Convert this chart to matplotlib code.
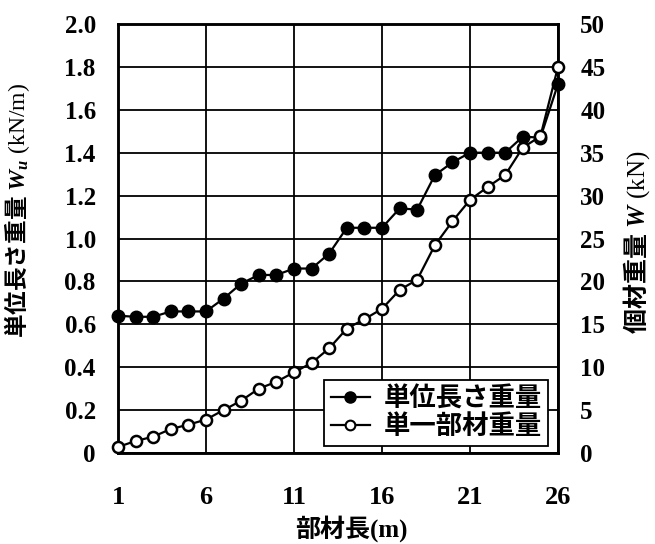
import matplotlib
matplotlib.use('Agg')
import matplotlib.pyplot as plt
from matplotlib.lines import Line2D

# Data
member_no = list(range(1, 27))
unit_weight = [0.64, 0.635, 0.635, 0.66, 0.66, 0.66, 0.72, 0.79, 0.83, 0.83,
               0.86, 0.86, 0.93, 1.05, 1.05, 1.05, 1.14, 1.135, 1.295, 1.355,
               1.40, 1.40, 1.40, 1.475, 1.47, 1.72]          # kN/m
member_weight = [0.7, 1.4, 1.9, 2.8, 3.3, 3.9, 5.0, 6.1, 7.5, 8.3,
                 9.4, 10.5, 12.2, 14.5, 15.6, 16.8, 19.0, 20.2, 24.2, 27.0,
                 29.5, 31.0, 32.4, 35.6, 36.9, 45.0]          # kN
x_ticks = [1, 6, 11, 16, 21, 26]
left_ticks = [0, 0.2, 0.4, 0.6, 0.8, 1.0, 1.2, 1.4, 1.6, 1.8, 2.0]
left_ticklabels = ['0', '0.2', '0.4', '0.6', '0.8', '1.0', '1.2', '1.4', '1.6', '1.8', '2.0']
right_ticks = [0, 5, 10, 15, 20, 25, 30, 35, 40, 45, 50]
legend_labels = ['単位長さ重量', '単一部材重量']

FAM = ['Liberation Serif', 'Noto Sans CJK JP']
plt.rcParams.update({
    'font.family': FAM,
    'font.size': 18,
    'mathtext.fontset': 'custom',
    'mathtext.rm': 'Liberation Serif',
    'mathtext.it': 'Liberation Serif:italic:bold',
    'mathtext.bf': 'Liberation Serif:bold',
    'mathtext.sf': 'Noto Sans CJK JP:bold',
})

fig = plt.figure(figsize=(6.55, 5.44), dpi=100)
ax = fig.add_axes([118 / 655, 1 - 453 / 544, 440 / 655, 429 / 544])
ax2 = ax.twinx()

ax.plot(member_no, unit_weight, color='black', lw=1.6, marker='o', ms=9,
        mfc='black', mec='black', clip_on=False, zorder=3)
ax2.plot(member_no, member_weight, color='black', lw=1.6, marker='o', ms=8,
         mfc='white', mec='black', mew=1.8, clip_on=False, zorder=3)

ax.set_xlim(1, 26)
ax.set_ylim(0, 2.0)
ax2.set_ylim(0, 50)
ax.set_xticks(x_ticks)
ax.set_yticks(left_ticks)
ax.set_yticklabels(left_ticklabels)
ax2.set_yticks(right_ticks)

ax.grid(True, color='black', lw=1.3)
ax.set_axisbelow(True)
for a in (ax, ax2):
    for sp in a.spines.values():
        sp.set_linewidth(1.8)
ax.tick_params(axis='both', length=0, labelsize=18)
ax.tick_params(axis='y', pad=16)
ax.tick_params(axis='x', pad=24, labelsize=19)
ax2.tick_params(axis='y', length=0, labelsize=18, pad=16)
for lbl in ax.get_xticklabels() + ax.get_yticklabels() + ax2.get_yticklabels():
    lbl.set_fontweight('bold')

ax.set_ylabel(r'$\mathsf{単位長さ重量}\ \mathit{W_u}\ \mathrm{(kN/m)}$', fontsize=17)
ax.yaxis.set_label_coords(-0.195, 0.565)
ax2.set_ylabel(r'$\mathsf{個材重量}\ \mathit{W}\ \mathrm{(kN)}$', fontsize=18, rotation=90)
ax2.yaxis.set_label_coords(1.143, 0.49)
ax.set_xlabel('部材長(m)', fontsize=18, fontweight='bold')
ax.xaxis.set_label_coords(0.53, -0.145)

handles = [
    Line2D([0], [0], color='black', lw=1.6, marker='o', ms=8, mfc='black', mec='black'),
    Line2D([0], [0], color='black', lw=1.6, marker='o', ms=7, mfc='white', mec='black', mew=1.5),
]
leg = ax2.legend(handles, legend_labels, loc='lower right', bbox_to_anchor=(0.99, 0.005),
                 prop={'family': FAM, 'size': 19, 'weight': 'bold'},
                 handlelength=1.5, handletextpad=0.5, labelspacing=0.1,
                 borderpad=0.25, borderaxespad=0.2, fancybox=False, framealpha=1,
                 edgecolor='black')
leg.get_frame().set_linewidth(1.3)

fig.savefig('out.png', dpi=100)
